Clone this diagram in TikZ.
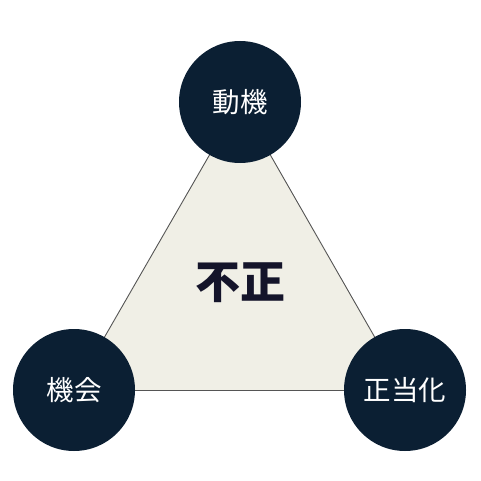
\documentclass[tikz,border=0pt]{standalone}
\usepackage{fontspec}
\newfontfamily\cjk{Noto Sans CJK JP}
\definecolor{navy}{HTML}{0B1F33}
\definecolor{beige}{HTML}{F0EFE6}
\definecolor{edge}{HTML}{555555}
\definecolor{ink}{HTML}{14142A}
\begin{document}
\begin{tikzpicture}[x=1pt,y=-1pt,
  vertex/.style={circle,fill=navy,minimum size=122pt,inner sep=0pt,text=white,font=\cjk\fontsize{27.5}{31}\selectfont},
  side/.style={draw=edge,line width=0.9pt}]
\useasboundingbox (0,0) rectangle (481,481);
\coordinate (t) at (240,102);
\coordinate (l) at (74,390);
\coordinate (r) at (405,390);
\fill[beige] (t) -- (l) -- (r) -- cycle;
\draw[side] (t) -- (l);
\draw[side] (l) -- (r);
\draw[side] (r) -- (t);
\node[font=\cjk\bfseries\fontsize{45}{50}\selectfont,text=ink] (c) at (240,283) {不正};
\node[vertex] (a) at (t) {動機};
\node[vertex] (b) at (l) {機会};
\node[vertex] (d) at (r) {正当化};
\end{tikzpicture}
\end{document}
